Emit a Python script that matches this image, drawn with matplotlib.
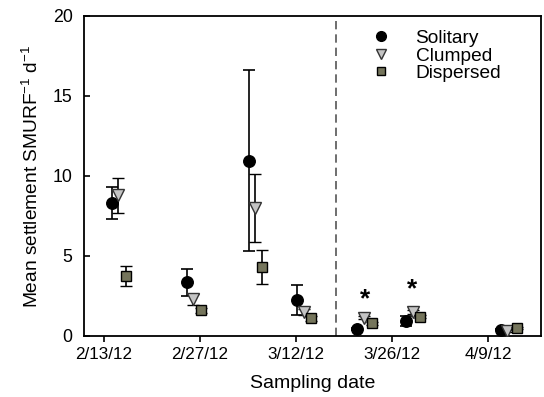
import matplotlib
matplotlib.use("Agg")
import matplotlib.pyplot as plt
from matplotlib.lines import Line2D

plt.rcParams['font.family'] = ['Liberation Sans', 'DejaVu Sans']
plt.rcParams['mathtext.fontset'] = 'custom'
plt.rcParams['mathtext.rm'] = 'Liberation Sans'
plt.rcParams['mathtext.it'] = 'Liberation Sans'

# days after 2/13/12
tick_days = [0, 14, 28, 42, 56]
tick_labels = ['2/13/12', '2/27/12', '3/12/12', '3/26/12', '4/9/12']

sol_x = [1.2, 12.1, 21.1, 28.1, 36.9, 44.0, 57.9]
sol_y = [8.3, 3.35, 10.95, 2.25, 0.45, 0.95, 0.4]
sol_e = [1.0, 0.85, 5.65, 0.95, 0.05, 0.3, 0.05]

clu_x = [2.0, 13.0, 22.1, 29.2, 37.9, 45.0, 58.8]
clu_y = [8.8, 2.3, 8.0, 1.5, 1.15, 1.5, 0.3]
clu_e = [1.1, 0.35, 2.15, 0.2, 0.1, 0.15, 0.05]

dis_x = [3.2, 14.1, 23.0, 30.2, 39.1, 46.1, 60.2]
dis_y = [3.75, 1.6, 4.3, 1.1, 0.8, 1.2, 0.5]
dis_e = [0.6, 0.15, 1.05, 0.15, 0.1, 0.1, 0.05]

star_x = [38.1, 44.9]
star_y = [2.3, 2.9]
divider_day = 33.8

fig = plt.figure(figsize=(5.44, 3.97), dpi=100)
ax = fig.add_axes([0.154, 0.1537, 0.8405, 0.806])

ekw = dict(ecolor='black', elinewidth=1.2, capsize=4, capthick=1.2, linestyle='none')
ax.errorbar(sol_x, sol_y, yerr=sol_e, fmt='o', ms=8.3, mfc='black', mec='black',
            zorder=3, **ekw)
ax.errorbar(clu_x, clu_y, yerr=clu_e, fmt='v', ms=8.3, mfc='#c4c4c4', mec='#333333',
            mew=1.0, zorder=4, **ekw)
ax.errorbar(dis_x, dis_y, yerr=dis_e, fmt='s', ms=7.2, mfc='#75755c', mec='black',
            mew=1.0, zorder=5, **ekw)

for x, y in zip(star_x, star_y):
    ax.text(x, y, '*', ha='center', va='center', fontsize=19, fontweight='bold')

ax.axvline(divider_day, color='#555555', linestyle=(0, (5, 3)), linewidth=1.2)

ax.set_xlim(-2.92, 63.7)
ax.set_ylim(0, 20)
ax.set_xticks(tick_days)
ax.set_xticklabels(tick_labels)
ax.set_yticks([0, 5, 10, 15, 20])
ax.tick_params(axis='x', direction='out', length=4, width=1.2, labelsize=12.3, pad=4)
ax.tick_params(axis='y', direction='in', length=4, width=1.2, labelsize=12.8, pad=8)
for s in ax.spines.values():
    s.set_linewidth(1.3)

ax.set_xlabel('Sampling date', fontsize=14, labelpad=9)
ax.set_ylabel(r'Mean settlement SMURF$^{\mathregular{-1}}$ d$^{\mathregular{-1}}$',
              fontsize=13.8, labelpad=8)

handles = [
    Line2D([], [], marker='o', ls='none', ms=7, mfc='black', mec='black'),
    Line2D([], [], marker='v', ls='none', ms=6.5, mfc='#c4c4c4', mec='#333333', mew=1.0),
    Line2D([], [], marker='s', ls='none', ms=6, mfc='#75755c', mec='black', mew=1.0),
]
ax.legend(handles, ['Solitary', 'Clumped', 'Dispersed'], loc='upper left',
          bbox_to_anchor=(0.583, 1.005), frameon=False, fontsize=13.8,
          handletextpad=1.0, labelspacing=0.0, handlelength=1.6, borderpad=0.3)

fig.savefig('out.png', dpi=100)
